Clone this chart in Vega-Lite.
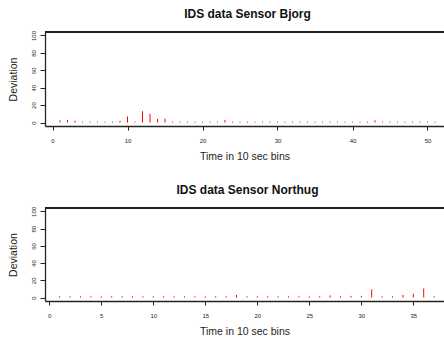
{
  "$schema": "https://vega.github.io/schema/vega-lite/v6.json",
  "autosize": {"type": "pad"},
  "padding": {"left": 8, "top": 8, "right": 0, "bottom": 0},
  "background": "white",
  "bounds": "flush",
  "spacing": 82,
  "datasets": {
    "bjorg": [
      {"Time": 1, "Deviation": 2.5}, {"Time": 2, "Deviation": 3}, {"Time": 3, "Deviation": 2},
      {"Time": 4, "Deviation": 1}, {"Time": 5, "Deviation": 1}, {"Time": 6, "Deviation": 1},
      {"Time": 7, "Deviation": 1}, {"Time": 8, "Deviation": 1}, {"Time": 9, "Deviation": 2},
      {"Time": 10, "Deviation": 7}, {"Time": 11, "Deviation": 1}, {"Time": 12, "Deviation": 13},
      {"Time": 13, "Deviation": 10}, {"Time": 14, "Deviation": 4}, {"Time": 15, "Deviation": 4.5},
      {"Time": 16, "Deviation": 1}, {"Time": 17, "Deviation": 1}, {"Time": 18, "Deviation": 1},
      {"Time": 19, "Deviation": 1}, {"Time": 20, "Deviation": 1}, {"Time": 21, "Deviation": 1},
      {"Time": 22, "Deviation": 1}, {"Time": 23, "Deviation": 3}, {"Time": 24, "Deviation": 1},
      {"Time": 25, "Deviation": 1}, {"Time": 26, "Deviation": 1}, {"Time": 27, "Deviation": 1},
      {"Time": 28, "Deviation": 1}, {"Time": 29, "Deviation": 1}, {"Time": 30, "Deviation": 1},
      {"Time": 31, "Deviation": 1}, {"Time": 32, "Deviation": 1}, {"Time": 33, "Deviation": 1},
      {"Time": 34, "Deviation": 1}, {"Time": 35, "Deviation": 1}, {"Time": 36, "Deviation": 1},
      {"Time": 37, "Deviation": 1}, {"Time": 38, "Deviation": 1}, {"Time": 39, "Deviation": 1},
      {"Time": 40, "Deviation": 1}, {"Time": 41, "Deviation": 1}, {"Time": 42, "Deviation": 1},
      {"Time": 43, "Deviation": 2.5}, {"Time": 44, "Deviation": 1}, {"Time": 45, "Deviation": 1},
      {"Time": 46, "Deviation": 1}, {"Time": 47, "Deviation": 1}, {"Time": 48, "Deviation": 1},
      {"Time": 49, "Deviation": 1}, {"Time": 50, "Deviation": 1}, {"Time": 51, "Deviation": 1}
    ],
    "northug": [
      {"Time": 1, "Deviation": 1.5}, {"Time": 2, "Deviation": 1.5}, {"Time": 3, "Deviation": 1.5},
      {"Time": 4, "Deviation": 1.5}, {"Time": 5, "Deviation": 1.5}, {"Time": 6, "Deviation": 1.5},
      {"Time": 7, "Deviation": 1.5}, {"Time": 8, "Deviation": 1.5}, {"Time": 9, "Deviation": 1.5},
      {"Time": 10, "Deviation": 1.5}, {"Time": 11, "Deviation": 1.5}, {"Time": 12, "Deviation": 1.5},
      {"Time": 13, "Deviation": 1.5}, {"Time": 14, "Deviation": 1.5}, {"Time": 15, "Deviation": 1.5},
      {"Time": 16, "Deviation": 1.5}, {"Time": 17, "Deviation": 1.5}, {"Time": 18, "Deviation": 3},
      {"Time": 19, "Deviation": 1.5}, {"Time": 20, "Deviation": 1.5}, {"Time": 21, "Deviation": 1.5},
      {"Time": 22, "Deviation": 1.5}, {"Time": 23, "Deviation": 1.5}, {"Time": 24, "Deviation": 1.5},
      {"Time": 25, "Deviation": 1.5}, {"Time": 26, "Deviation": 1.5}, {"Time": 27, "Deviation": 2.5},
      {"Time": 28, "Deviation": 1.5}, {"Time": 29, "Deviation": 2}, {"Time": 30, "Deviation": 2},
      {"Time": 31, "Deviation": 9.5}, {"Time": 32, "Deviation": 1.5}, {"Time": 33, "Deviation": 1.5},
      {"Time": 34, "Deviation": 3}, {"Time": 35, "Deviation": 4.5}, {"Time": 36, "Deviation": 10.5},
      {"Time": 37, "Deviation": 1.5}
    ]
  },
  "config": {
    "view": {"stroke": null},
    "font": "Liberation Sans",
    "axis": {
      "grid": false,
      "labelOverlap": false,
      "labelFlush": false,
      "domainColor": "#222222",
      "domainWidth": 1.3,
      "tickColor": "#222222",
      "tickWidth": 1,
      "labelFont": "Liberation Sans",
      "labelColor": "#222222",
      "titleFont": "Liberation Sans",
      "titleFontWeight": "normal",
      "titleColor": "#222222",
      "titleFontSize": 10.5
    },
    "title": {"font": "Liberation Sans", "fontSize": 12, "fontWeight": "bold", "color": "#111111", "anchor": "middle"}
  },
  "vconcat": [
    {
      "width": 399,
      "height": 94,
      "title": {"text": "IDS data Sensor Bjorg", "baseline": "alphabetic", "offset": 0, "dx": 3},
      "data": {"name": "bjorg"},
      "resolve": {"axis": {"y": "independent"}},
      "layer": [
        {
          "mark": {"type": "rule", "color": "#ff0000", "strokeWidth": 1},
          "encoding": {
            "x": {"field": "Time", "type": "quantitative", "scale": {"domain": [-1, 52.2], "nice": false, "zero": false},
              "axis": {"values": [0, 10, 20, 30, 40, 50], "title": "Time in 10 sec bins", "labelFontSize": 6, "tickSize": 4, "labelPadding": 12, "labelBaseline": "alphabetic", "titleBaseline": "alphabetic", "titleY": 33.5}},
            "y": {"field": "Deviation", "type": "quantitative", "scale": {"domain": [-4, 104], "nice": false, "zero": false},
              "axis": {"values": [0, 20, 40, 60, 80, 100], "title": "Deviation", "labelFontSize": 6, "labelAngle": -90, "labelAlign": "center", "labelBaseline": "bottom", "tickSize": 5, "labelPadding": 4, "titleX": -32, "titleY": 47, "titleBaseline": "middle", "titleAlign": "center", "titleAngle": -90}},
            "y2": {"datum": 0}
          }
        },
        {
          "mark": {"type": "rule", "color": "#222222", "strokeWidth": 1.3},
          "encoding": {"y": {"datum": 104, "type": "quantitative", "axis": null}}
        }
      ]
    },
    {
      "width": 399,
      "height": 93,
      "title": {"text": "IDS data Sensor Northug", "baseline": "alphabetic", "offset": 0, "dx": 3},
      "data": {"name": "northug"},
      "resolve": {"axis": {"y": "independent"}},
      "layer": [
        {
          "mark": {"type": "rule", "color": "#ff0000", "strokeWidth": 1},
          "encoding": {
            "x": {"field": "Time", "type": "quantitative", "scale": {"domain": [-0.41, 37.95], "nice": false, "zero": false},
              "axis": {"values": [0, 5, 10, 15, 20, 25, 30, 35], "title": "Time in 10 sec bins", "labelFontSize": 6, "tickSize": 4, "labelPadding": 12, "labelBaseline": "alphabetic", "titleBaseline": "alphabetic", "titleY": 33.5}},
            "y": {"field": "Deviation", "type": "quantitative", "scale": {"domain": [-4, 104], "nice": false, "zero": false},
              "axis": {"values": [0, 20, 40, 60, 80, 100], "title": "Deviation", "labelFontSize": 6, "labelAngle": -90, "labelAlign": "center", "labelBaseline": "bottom", "tickSize": 5, "labelPadding": 4, "titleX": -32, "titleY": 46.5, "titleBaseline": "middle", "titleAlign": "center", "titleAngle": -90}},
            "y2": {"datum": 0}
          }
        },
        {
          "mark": {"type": "rule", "color": "#222222", "strokeWidth": 1.3},
          "encoding": {"y": {"datum": 104, "type": "quantitative", "axis": null}}
        }
      ]
    }
  ]
}
